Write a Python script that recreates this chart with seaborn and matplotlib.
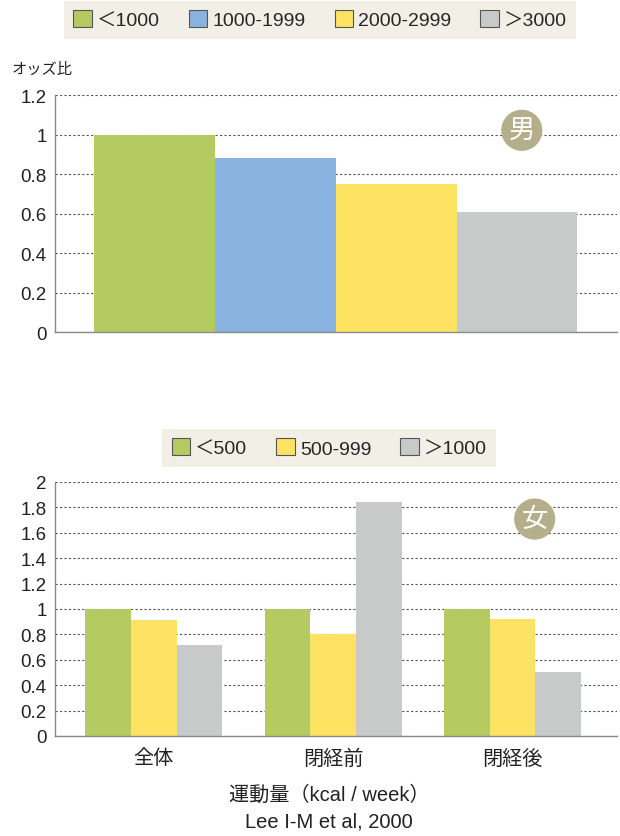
# オッズ比の棒グラフ（男・女）
import pandas as pd
import seaborn as sns
import matplotlib.pyplot as plt

# ---- データ ----
male_labels = ["＜1000", "1000-1999", "2000-2999", "＞3000"]
male_values = [1.0, 0.88, 0.75, 0.61]
male_colors = ["#b5cb62", "#88b3e0", "#fee262", "#c8c9c9"]

female_groups = ["全体", "閉経前", "閉経後"]
female_labels = ["＜500", "500-999", "＞1000"]
female_values = {
    "＜500": [1.0, 1.0, 1.0],
    "500-999": [0.91, 0.80, 0.92],
    "＞1000": [0.72, 1.84, 0.50],
}
female_colors = ["#b5cb62", "#fee262", "#c8c9c9"]

sns.set_style("white")
plt.rcParams["font.family"] = ["Liberation Sans", "Noto Sans CJK JP"]

fig = plt.figure(figsize=(6.2, 8.37), dpi=100)
ax1 = fig.add_axes([0.0887, 0.602, 0.906, 0.283])
ax2 = fig.add_axes([0.0887, 0.1195, 0.906, 0.3035])

# 男
df_m = pd.DataFrame({"grp": ["男"] * len(male_labels), "kcal": male_labels, "odds": male_values})
sns.barplot(data=df_m, x="grp", y="odds", hue="kcal", hue_order=male_labels,
            palette=male_colors, width=0.86, saturation=1, linewidth=0, ax=ax1)
ax1.set_xlim(-0.5, 0.5)
ax1.set_ylim(0, 1.2)
ax1.set_yticks([0, 0.2, 0.4, 0.6, 0.8, 1, 1.2])
ax1.set_yticklabels(["0", "0.2", "0.4", "0.6", "0.8", "1", "1.2"])
ax1.set_xticks([])

# 女
rows = []
for lab in female_labels:
    for g, v in zip(female_groups, female_values[lab]):
        rows.append({"grp": g, "kcal": lab, "odds": v})
df_f = pd.DataFrame(rows)
sns.barplot(data=df_f, x="grp", y="odds", hue="kcal", hue_order=female_labels,
            order=female_groups, palette=female_colors, width=0.763, saturation=1,
            linewidth=0, ax=ax2)
ax2.set_xlim(-0.55, 2.58)
ax2.set_ylim(0, 2)
ax2.set_yticks([0, 0.2, 0.4, 0.6, 0.8, 1, 1.2, 1.4, 1.6, 1.8, 2])
ax2.set_yticklabels(["0", "0.2", "0.4", "0.6", "0.8", "1", "1.2", "1.4", "1.6", "1.8", "2"])

for ax in (ax1, ax2):
    ax.set_xlabel("")
    ax.set_ylabel("")
    ax.yaxis.grid(True, linestyle=(0, (2, 2)), color="#555555", linewidth=0.8)
    ax.set_axisbelow(True)
    for s in ["top", "right"]:
        ax.spines[s].set_visible(False)
    for s in ["left", "bottom"]:
        ax.spines[s].set_color("#8a8a8a")
        ax.spines[s].set_linewidth(1)
    ax.tick_params(axis="y", length=0, labelsize=13.5, pad=6, colors="#222222")
ax2.tick_params(axis="x", length=0, labelsize=14.5, pad=9, colors="#222222")

# 凡例
for ax, ncol, pos in [(ax1, 4, (0.516, 0.975)), (ax2, 3, (0.531, 0.4636))]:
    handles, labels = ax.get_legend_handles_labels()
    ax.legend_.remove()
    leg = fig.legend(handles, labels, loc="center", bbox_to_anchor=pos, ncol=ncol,
                     fontsize=14, frameon=True, fancybox=False, handlelength=0.95,
                     handleheight=0.95, handletextpad=0.25, columnspacing=1.5,
                     borderpad=0.5, borderaxespad=0)
    leg.get_frame().set_facecolor("#efede0")
    leg.get_frame().set_edgecolor("none")
    for h in leg.legend_handles:
        h.set_edgecolor("#555555")
        h.set_linewidth(0.8)

# 丸の中の文字
badge = dict(boxstyle="circle,pad=0.28", fc="#b5ae8a", ec="none")
ax1.text(0.831, 0.852, "男", transform=ax1.transAxes, ha="center", va="center",
         fontsize=19, color="white", bbox=badge)
ax2.text(0.854, 0.854, "女", transform=ax2.transAxes, ha="center", va="center",
         fontsize=19, color="white", bbox=badge)

fig.text(12 / 620, 1 - 70 / 837, "オッズ比", fontsize=11, ha="left", va="center", color="#222222")
fig.text(0.531, 1 - 795 / 837, "運動量（kcal / week）", fontsize=14.5, ha="center", va="center", color="#222222")
fig.text(0.531, 1 - 822 / 837, "Lee I-M et al, 2000", fontsize=14.5, ha="center", va="center", color="#222222")

fig.savefig("out.png", dpi=100)
